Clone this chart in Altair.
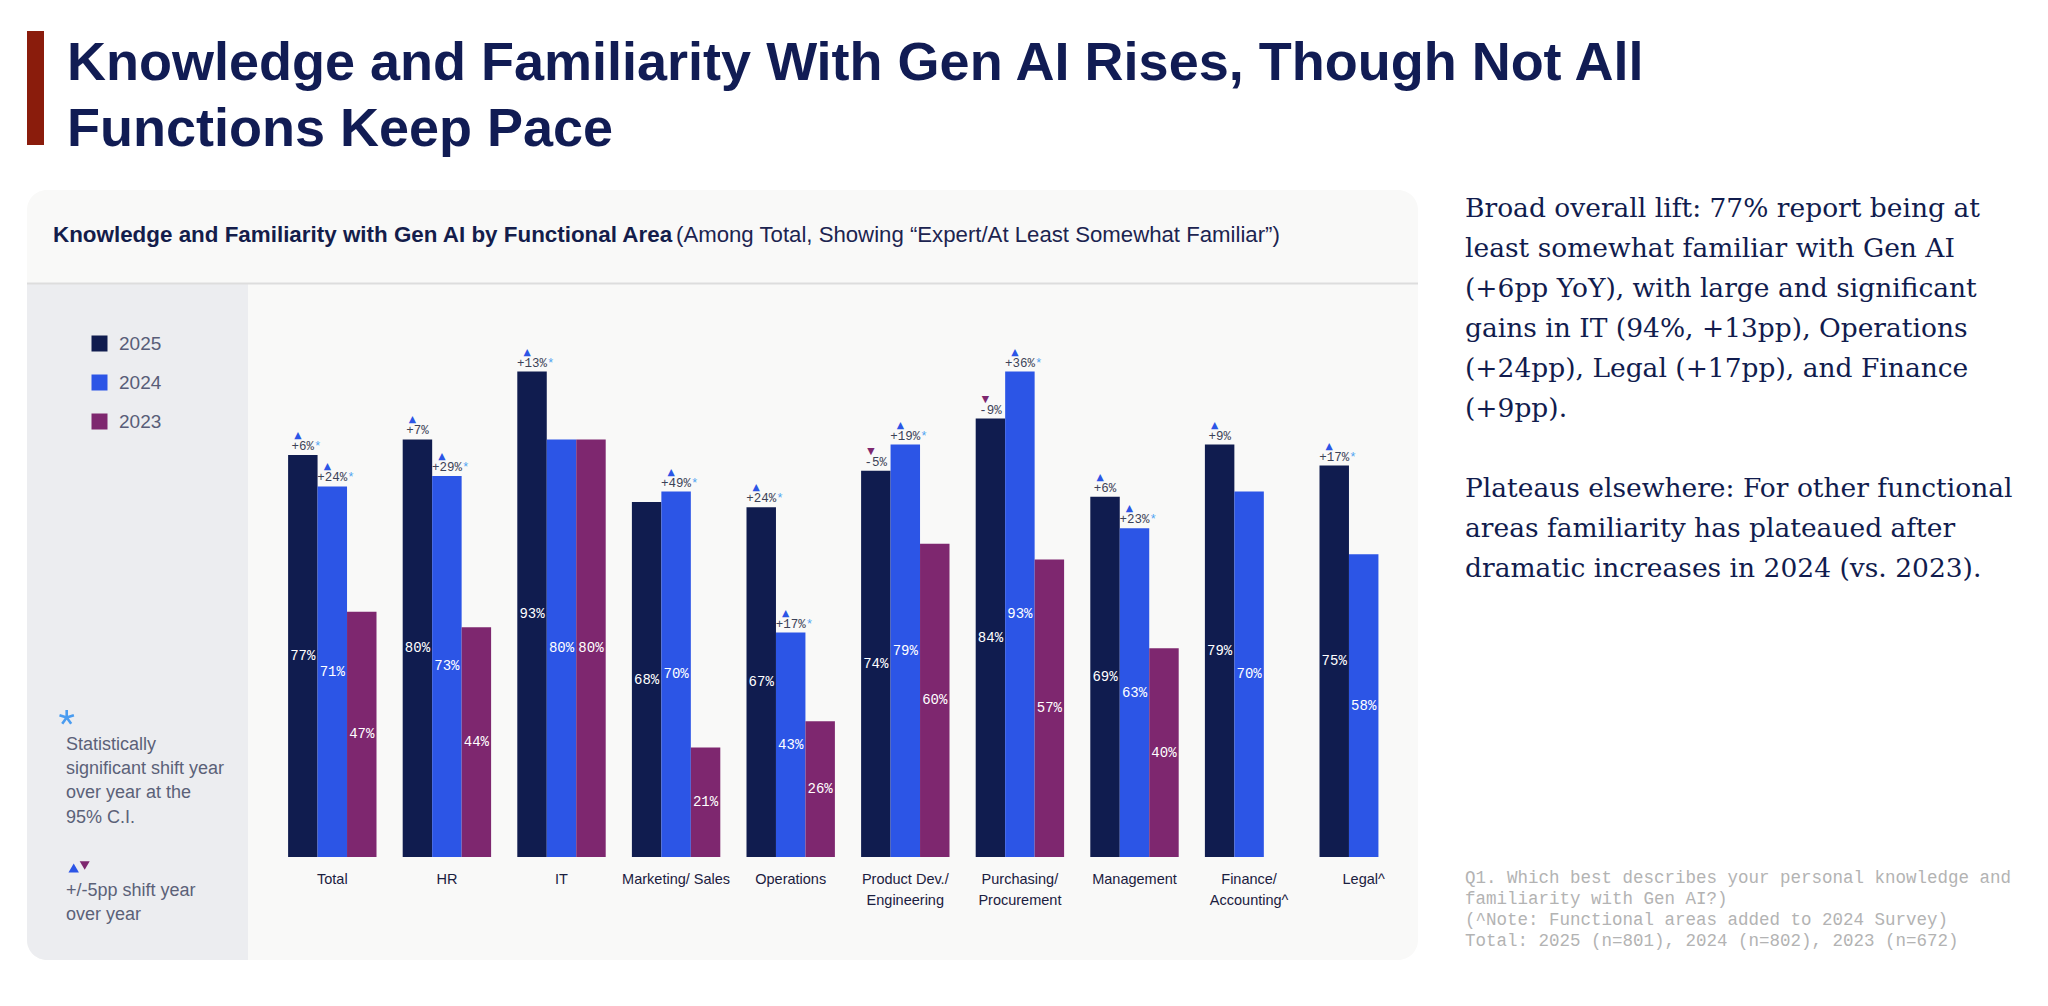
import altair as alt
import pandas as pd

# ---------------- data ----------------
categories = ["Total", "HR", "IT", "Marketing/ Sales", "Operations",
              "Product Dev./\nEngineering", "Purchasing/\nProcurement",
              "Management", "Finance/\nAccounting^", "Legal^"]
years = ["2025", "2024", "2023"]
v2025 = [77, 80, 93, 68, 67, 74, 84, 69, 79, 75]
v2024 = [71, 73, 80, 70, 43, 79, 93, 63, 70, 58]
v2023 = [47, 44, 80, 21, 26, 60, 57, 40, None, None]
chg2025 = ["+6%", "+7%", "+13%", None, "+24%", "-5%", "-9%", "+6%", "+9%", "+17%"]
sig2025 = [True, False, True, False, True, False, False, False, False, True]
chg2024 = ["+24%", "+29%", None, "+49%", "+17%", "+19%", "+36%", "+23%", None, None]
sig2024 = [True, True, False, True, True, True, True, True, False, False]
colors = ["#101c4f", "#2c55e6", "#7e276f"]

title_lines = ["Knowledge and Familiarity With Gen AI Rises, Though Not All",
               "Functions Keep Pace"]
subtitle_bold = "Knowledge and Familiarity with Gen AI by Functional Area"
subtitle_reg = "(Among Total, Showing \u201cExpert/At Least Somewhat Familiar\u201d)"
side_para1 = ["Broad overall lift: 77% report being at",
              "least somewhat familiar with Gen AI",
              "(+6pp YoY), with large and significant",
              "gains in IT (94%, +13pp), Operations",
              "(+24pp), Legal (+17pp), and Finance",
              "(+9pp)."]
side_para2 = ["Plateaus elsewhere: For other functional",
              "areas familiarity has plateaued after",
              "dramatic increases in 2024 (vs. 2023)."]
foot_text = ["Q1. Which best describes your personal knowledge and",
             "familiarity with Gen AI?)",
             "(^Note: Functional areas added to 2024 Survey)",
             "Total: 2025 (n=801), 2024 (n=802), 2023 (n=672)"]
sig_note = ["Statistically", "significant shift year", "over year at the", "95% C.I."]
shift_note = ["+/-5pp shift year", "over year"]

# ---------------- tables ----------------
rows, ann = [], []
series = [("2025", v2025, chg2025, sig2025), ("2024", v2024, chg2024, sig2024),
          ("2023", v2023, [None] * 10, [False] * 10)]
for i, c in enumerate(categories):
    for yr, vals, chg, sig in series:
        v = vals[i]
        if v is None:
            continue
        rows.append({"cat": c, "year": yr, "value": v, "half": v / 2, "label": f"{v}%"})
        if chg[i] is not None:
            ann.append({"cat": c, "year": yr, "value": v, "chg": chg[i],
                        "n": len(chg[i]), "sig": bool(sig[i]),
                        "dir": "up" if chg[i].startswith("+") else "down",
                        "tri": "\u25b2" if chg[i].startswith("+") else "\u25bc"})
df = pd.DataFrame(rows)
adf = pd.DataFrame(ann)

# ---------------- layout ----------------
PL, PT, W, H = 267, 327, 1146, 522
OX, OY = PL + 8, PT + 8


def px(X):
    return X - OX


def py(Y):
    return Y - OY


one = pd.DataFrame({"k": [0]})

NAVY = "#111c54"
SANS = "Liberation Sans, Arial, sans-serif"
MONO = "Liberation Mono, Courier New, monospace"
SERIF = "DejaVu Serif, Georgia, serif"
ANN_FS = 12.5
CW = 0.6 * ANN_FS
ASTERISK = ("M0,0L0,-1M0,0L0.95,-0.31M0,0L0.59,0.81M0,0L-0.59,0.81M0,0L-0.95,-0.31")


def rect(x1, x2, y1, y2, color, **kw):
    return alt.Chart(one).mark_rect(color=color, **kw).encode(
        x=alt.value(px(x1)), x2=alt.value(px(x2)), y=alt.value(py(y1)), y2=alt.value(py(y2)))


def text(x, y, s, **kw):
    return alt.Chart(one).mark_text(align=kw.pop("align", "left"), baseline=kw.pop("baseline", "alphabetic"), **kw).encode(
        x=alt.value(px(x)), y=alt.value(py(y)), text=alt.value(s))


panel = rect(27, 1418, 190, 960, "#f9f9f8", cornerRadius=20)
leftpanel = rect(27, 248, 284, 960, "#ecedf0", cornerRadiusBottomLeft=20)
sep = alt.Chart(one).mark_rule(color="#dddddd", strokeWidth=2).encode(
    x=alt.value(px(27)), x2=alt.value(px(1418)), y=alt.value(py(283.5)))
redbar = rect(27, 44, 31, 145, "#8a1c0c")

title = text(67, 80, "\n".join(title_lines), font=SANS, fontSize=54, fontWeight="bold",
             color=NAVY, lineBreak="\n", lineHeight=66)
sub1 = text(53, 242, subtitle_bold, font=SANS, fontSize=22.4, fontWeight="bold", color="#141d4b")
sub2 = text(676, 242, subtitle_reg, font=SANS, fontSize=22.2, color="#1c2450")

side1 = text(1465, 217, "\n".join(side_para1), font=SERIF, fontSize=26.5, color="#111c4e",
             lineBreak="\n", lineHeight=40)
side2 = text(1465, 497, "\n".join(side_para2), font=SERIF, fontSize=26.5, color="#111c4e",
             lineBreak="\n", lineHeight=40)
foot = text(1465, 883, "\n".join(foot_text), font=MONO, fontSize=17.5, color="#b3b3b3",
            lineBreak="\n", lineHeight=21)

star_big = alt.Chart(one).mark_point(shape=ASTERISK, filled=False, size=230, color="#4a9cf0",
                                     strokeWidth=2.6, opacity=1).encode(
    x=alt.value(px(66.7)), y=alt.value(py(717.5)))
signote = text(66, 750, "\n".join(sig_note), font=SANS, fontSize=18, color="#5b6178",
               lineBreak="\n", lineHeight=24.2)
tri_up = alt.Chart(one).mark_point(shape="triangle-up", filled=True, size=110, color="#2c55e6", opacity=1).encode(
    x=alt.value(px(73.7)), y=alt.value(py(868)))
tri_dn = alt.Chart(one).mark_point(shape="triangle-down", filled=True, size=100, color="#7e276f", opacity=1).encode(
    x=alt.value(px(84.7)), y=alt.value(py(865.5)))
shiftnote = text(66, 896, "\n".join(shift_note), font=SANS, fontSize=18, color="#5b6178",
                 lineBreak="\n", lineHeight=24)

# ---------------- bars ----------------
xenc = alt.X("cat:N", sort=categories,
             scale=alt.Scale(paddingInner=0.2286, paddingOuter=0.1143),
             axis=alt.Axis(title=None, labelExpr="split(datum.label, '\\n')", labelAngle=0,
                           labelFont=SANS, labelFontSize=14.5, labelColor="#1b2040",
                           labelLineHeight=21, labelPadding=15, ticks=False, tickSize=0,
                           domain=False, grid=False, labelLimit=300, zindex=2))
xs = alt.X("cat:N", sort=categories)
xoff = alt.XOffset("year:N", sort=years, scale=alt.Scale(domain=years, paddingInner=0, paddingOuter=0))
yenc = alt.Y("value:Q", scale=alt.Scale(domain=[0, 100]), axis=None)

bars = alt.Chart(df).mark_bar().encode(
    x=xenc, xOffset=xoff, y=yenc,
    color=alt.Color("year:N", sort=years,
                    scale=alt.Scale(domain=years, range=colors),
                    legend=alt.Legend(orient="none", legendX=px(90), legendY=py(334), title=None,
                                      symbolType="square", symbolSize=256, symbolStrokeWidth=0,
                                      labelFont=SANS, labelFontSize=19, labelColor="#585d78",
                                      labelOffset=10, rowPadding=19, padding=0)))

vlabels = alt.Chart(df).mark_text(font=MONO, fontSize=14, color="white", baseline="middle").encode(
    x=xs, xOffset=xoff, y=alt.Y("half:Q"), text="label:N")

ann_text = alt.Chart(adf).mark_text(font=MONO, fontSize=ANN_FS, color="#3c4257", baseline="alphabetic", dy=-5).encode(
    x=xs, xOffset=xoff, y=alt.Y("value:Q"), text="chg:N")
star_layers = []
for n in (3, 4):
    star_layers.append(
        alt.Chart(adf).transform_filter(f"datum.sig && datum.n == {n}").mark_text(
            font=MONO, fontSize=ANN_FS, color="#4da3f2", baseline="alphabetic", align="left",
            dy=-5, dx=n * CW / 2).encode(
            x=xs, xOffset=xoff, y=alt.Y("value:Q"), text=alt.value("*")))
ann_up = alt.Chart(adf).transform_filter("datum.dir == 'up'").mark_text(
    font="DejaVu Sans", fontSize=9.5, color="#2c55e6", baseline="middle", dy=-20, dx=-5).encode(
    x=xs, xOffset=xoff, y=alt.Y("value:Q"), text="tri:N")
ann_dn = alt.Chart(adf).transform_filter("datum.dir == 'down'").mark_text(
    font="DejaVu Sans", fontSize=9.5, color="#7e276f", baseline="middle", dy=-20, dx=-5).encode(
    x=xs, xOffset=xoff, y=alt.Y("value:Q"), text="tri:N")

chart = alt.layer(
    panel, leftpanel, sep, redbar, title, sub1, sub2, side1, side2, foot,
    star_big, signote, tri_up, tri_dn, shiftnote,
    bars, vlabels, ann_text, *star_layers, ann_up, ann_dn
).properties(
    width=W, height=H,
    padding={"left": PL, "top": PT, "right": 2030 - PL - W, "bottom": 988 - PT - H},
    autosize=alt.AutoSizeParams(type="none"),
    background="white",
).configure_view(stroke=None)

chart.save("out.html", embed_options={"renderer": "svg", "actions": False})
